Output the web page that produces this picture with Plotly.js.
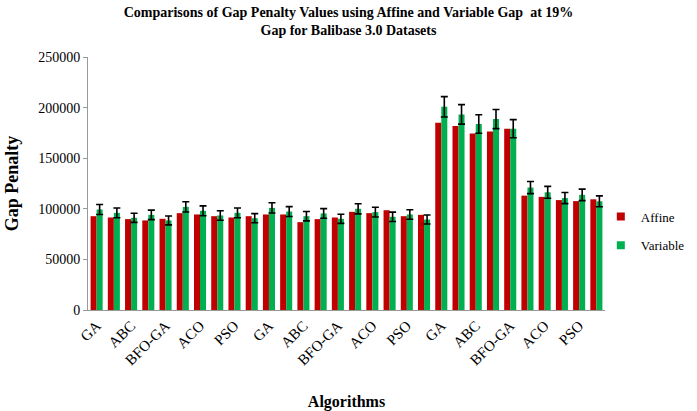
<!DOCTYPE html>
<html>
<head>
<meta charset="utf-8">
<script src="https://cdn.plot.ly/plotly-3.0.1.min.js"></script>
<style>html,body{margin:0;padding:0;background:#fff}#chart{width:697px;height:411px}</style>
</head>
<body>
<div id="chart"></div>
<script>
// Tick labels shown under every other group (Excel skipped alternate labels)
var tickLabels = ['GA','ABC','BFO-GA','ACO','PSO','GA','ABC','BFO-GA','ACO','PSO','GA','ABC','BFO-GA','ACO','PSO'];
// Group positions (30 groups)
var groups = [0,1,2,3,4,5,6,7,8,9,10,11,12,13,14,15,16,17,18,19,20,21,22,23,24,25,26,27,28,29];
var affine = [92700,91400,89800,88500,90100,95700,94400,92700,91400,92700,
              94400,94400,86800,89800,91400,97000,95700,98600,92700,94000,
              185100,181900,174300,176300,179200,113000,111800,108600,107600,109400];
var variable = [99300,96000,91100,94000,88500,101900,98000,93400,96000,90700,
                100900,97300,92700,95400,90100,100000,96700,92100,94400,89400,
                200800,193300,183800,188700,179200,121000,116300,110600,113800,107400];
var tickPositions = tickLabels.map(function(_, i){ return groups[i*2]; });

var serif = 'Liberation Serif, Times New Roman, serif';
var data = [
  {type:'bar', x:groups, y:affine, name:'Affine', marker:{color:'#C00000'}, showlegend:false},
  {type:'bar', x:groups, y:variable, name:'Variable', marker:{color:'#00B050'}, showlegend:false,
   error_y:{type:'percent', value:5, color:'#000', thickness:1.6, width:3.5}},
  {type:'scatter', mode:'markers', x:[null], y:[null], name:'Affine', legendgroup:'a',
   marker:{symbol:'square', size:8, color:'#C00000'}},
  {type:'scatter', mode:'markers', x:[null], y:[null], name:'Variable', legendgroup:'b',
   marker:{symbol:'square', size:8, color:'#00B050'}}
];
var layout = {
  width:697, height:411,
  margin:{l:88, r:92, t:57, b:101, autoexpand:false},
  paper_bgcolor:'#fff', plot_bgcolor:'#fff',
  font:{family:serif, size:13, color:'#000'},
  title:{text:'<b>Comparisons of Gap Penalty Values using Affine and Variable Gap  at 19%<br>Gap for Balibase 3.0 Datasets</b>',
         font:{family:serif, size:14, color:'#000'}, x:0.5, xanchor:'center', y:0.958, yanchor:'top', yref:'container'},
  barmode:'group', bargap:0.3, bargroupgap:0,
  xaxis:{range:[-0.5,29.5], tickmode:'array', tickvals:tickPositions, ticktext:tickLabels,
         tickangle:-45, showline:true, linecolor:'#999', linewidth:1, ticks:'', showgrid:false, zeroline:false,
         tickfont:{family:serif, size:15}, automargin:false,
         title:{text:'<b>Algorithms</b>', font:{family:serif, size:16}, standoff:28}},
  yaxis:{range:[0,250000], dtick:50000, tickformat:'d', showline:true, linecolor:'#999', linewidth:1,
         ticks:'outside', ticklen:4, tickcolor:'#999', showgrid:false, zeroline:false,
         tickfont:{family:serif, size:14}, automargin:false,
         title:{text:'<b>Gap Penalty</b>', font:{family:serif, size:18}, standoff:14}},
  legend:{xref:'container', yref:'container', x:0.862, xanchor:'left', y:0.438, yanchor:'middle',
          traceorder:'grouped', tracegroupgap:9,
          font:{family:serif, size:13}, bgcolor:'rgba(0,0,0,0)'},
  showlegend:true
};
Plotly.newPlot('chart', data, layout, {displayModeBar:false, staticPlot:true});
</script>
</body>
</html>
